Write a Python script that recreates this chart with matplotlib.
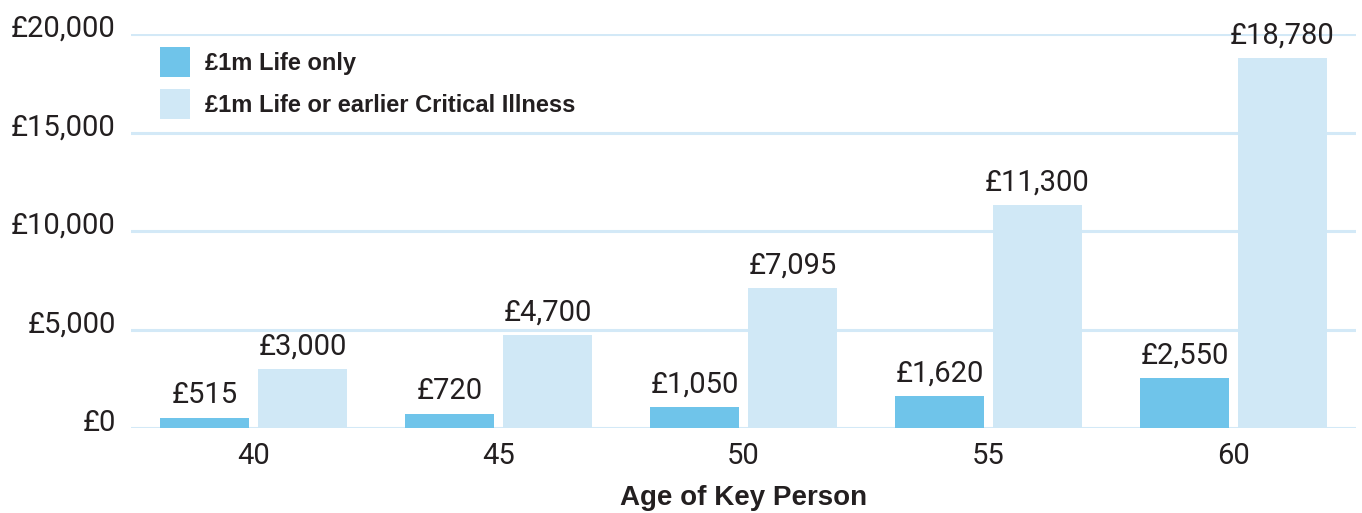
import matplotlib
matplotlib.use("Agg")
import matplotlib.pyplot as plt
import numpy as np
from matplotlib.transforms import ScaledTranslation

ages = ["40", "45", "50", "55", "60"]
life_only = [515, 720, 1050, 1620, 2550]
life_ci = [3000, 4700, 7095, 11300, 18780]
series_names = ["£1m Life only", "£1m Life or earlier Critical Illness"]
yticks = [0, 5000, 10000, 15000, 20000]
ytick_labels = ["£0", "£5,000", "£10,000", "£15,000", "£20,000"]

DARK = "#6FC4EA"
LIGHT = "#D0E8F6"
GRID = "#D3E9F7"
TXT = "#231F20"
NUMFONT = ["Roboto", "DejaVu Sans"]
BOLDFONT = ["Liberation Sans", "DejaVu Sans"]
NUMSIZE = 21

fig = plt.figure(figsize=(13.62, 5.13), dpi=100)
ax = fig.add_axes([131/1362, 85/513, 1225/1362, 394/513])

x = np.arange(len(ages))
w = 89/245
off = 49/245
b1 = ax.bar(x - off, life_only, width=w, color=DARK, label=series_names[0], zorder=2)
b2 = ax.bar(x + off, life_ci, width=w, color=LIGHT, label=series_names[1], zorder=2)

for bars, vals in ((b1, life_only), (b2, life_ci)):
    for r, v in zip(bars, vals):
        ax.annotate(f"£{v:,}", (r.get_x() + r.get_width()/2, v), xytext=(0, 10.4),
                    textcoords="offset points", ha="center", va="baseline",
                    fontsize=NUMSIZE, color=TXT, family=NUMFONT, zorder=4)

ax.set_xlim(-0.5, len(ages) - 0.5)
ax.set_ylim(0, 20000)
ax.set_yticks(yticks)
ax.set_yticklabels(ytick_labels, family=NUMFONT, fontsize=NUMSIZE, color=TXT)
ax.set_xticks(x)
ax.set_xticklabels(ages, family=NUMFONT, fontsize=NUMSIZE, color=TXT)
ax.tick_params(axis="both", length=0)
ax.tick_params(axis="y", pad=11)
ax.tick_params(axis="x", pad=10)
for lab in ax.get_yticklabels():
    lab.set_transform(lab.get_transform() + ScaledTranslation(0, 8/100, fig.dpi_scale_trans))

ax.grid(axis="y", color=GRID, linewidth=2.2, zorder=1)
ax.set_axisbelow(True)
for s in ax.spines.values():
    s.set_visible(False)

ax.set_xlabel("Age of Key Person", family=BOLDFONT, fontweight="bold", fontsize=20,
              color=TXT, labelpad=11)

leg = ax.legend(loc="upper left", bbox_to_anchor=((160-131)/1225, (428-47)/394),
                frameon=False, borderpad=0, borderaxespad=0,
                handlelength=1.27, handleheight=1.58, handletextpad=0.64,
                labelspacing=0.51, prop={"family": BOLDFONT, "weight": "bold", "size": 17})
for t in leg.get_texts():
    t.set_color(TXT)

fig.savefig("out.png", dpi=100)
